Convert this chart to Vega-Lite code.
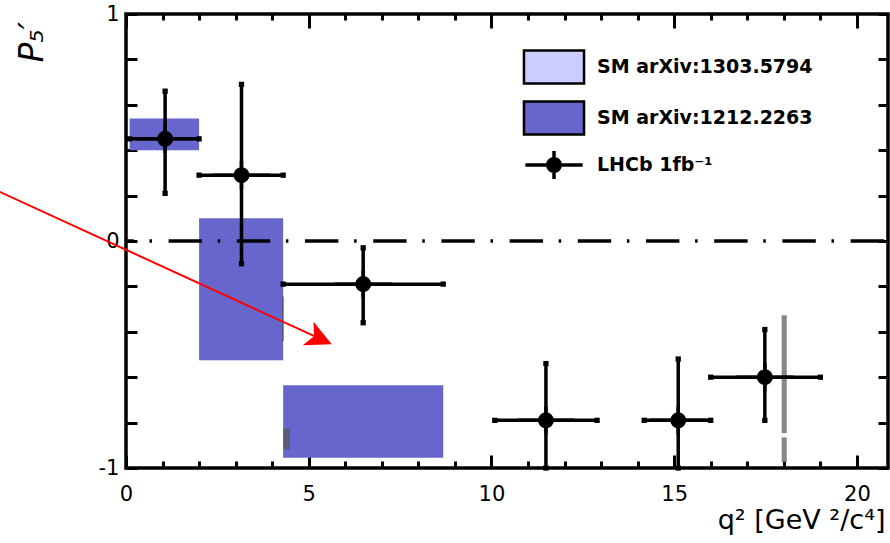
{
  "$schema": "https://vega.github.io/schema/vega-lite/v6.json",
  "width": 762,
  "height": 454,
  "autosize": {"type": "none"},
  "padding": {"left": 126, "top": 14, "right": 2, "bottom": 75},
  "background": "white",
  "config": {
    "view": {"stroke": "black", "strokeWidth": 3.5},
    "axis": {
      "domain": false,
      "grid": false,
      "labelFont": "DejaVu Sans",
      "labelFontSize": 21,
      "labelColor": "black",
      "labelFlush": false,
      "tickColor": "black",
      "tickWidth": 3,
      "titleFont": "DejaVu Sans",
      "titleFontWeight": "normal",
      "titleColor": "black"
    },
    "legend": {
      "orient": "none", "legendX": 410, "legendY": 35, "padding": 0,
      "symbolSize": 1089, "symbolStrokeColor": "black", "symbolStrokeWidth": 2.5, "symbolOpacity": 1,
      "labelFont": "DejaVu Sans", "labelFontWeight": "bold", "labelFontSize": 19, "labelLimit": 400,
      "labelColor": "black", "labelOffset": 25, "rowPadding": 7
    }
  },
  "datasets": {
    "theory": [
      {"series": "SM arXiv:1212.2263", "q_lo": 0.1, "q_hi": 2.0, "lo": 0.40, "hi": 0.54},
      {"series": "SM arXiv:1212.2263", "q_lo": 2.0, "q_hi": 4.3, "lo": -0.525, "hi": 0.10},
      {"series": "SM arXiv:1212.2263", "q_lo": 4.3, "q_hi": 8.68, "lo": -0.955, "hi": -0.635}
    ],
    "narrow": [
      {"series": "SM arXiv:1303.5794", "q_lo": 4.27, "q_hi": 4.32, "lo": -0.44, "hi": -0.245},
      {"series": "SM arXiv:1303.5794", "q_lo": 4.3, "q_hi": 4.48, "lo": -0.918, "hi": -0.826},
      {"series": "SM arXiv:1303.5794", "q_lo": 17.94, "q_hi": 18.08, "lo": -0.846, "hi": -0.327},
      {"series": "SM arXiv:1303.5794", "q_lo": 17.94, "q_hi": 18.08, "lo": -0.975, "hi": -0.865}
    ],
    "lhcb": [
      {"series": "LHCb 1fb⁻¹", "q": 1.07, "q_lo": 0.1, "q_hi": 2.0, "p": 0.45, "p_lo": 0.21, "p_hi": 0.66},
      {"series": "LHCb 1fb⁻¹", "q": 3.16, "q_lo": 2.0, "q_hi": 4.3, "p": 0.29, "p_lo": -0.10, "p_hi": 0.69},
      {"series": "LHCb 1fb⁻¹", "q": 6.49, "q_lo": 4.3, "q_hi": 8.68, "p": -0.19, "p_lo": -0.36, "p_hi": -0.03},
      {"series": "LHCb 1fb⁻¹", "q": 11.49, "q_lo": 10.09, "q_hi": 12.89, "p": -0.79, "p_lo": -1.0, "p_hi": -0.54},
      {"series": "LHCb 1fb⁻¹", "q": 15.11, "q_lo": 14.18, "q_hi": 16.0, "p": -0.79, "p_lo": -1.0, "p_hi": -0.52},
      {"series": "LHCb 1fb⁻¹", "q": 17.48, "q_lo": 16.0, "q_hi": 19.0, "p": -0.60, "p_lo": -0.79, "p_hi": -0.39}
    ],
    "zero": [{"p": 0}],
    "arrow": [
      {"q": -3.6, "p": 0.227},
      {"q": 5.26, "p": -0.427}
    ],
    "arrowhead": [{"q": 5.63, "p": -0.455}]
  },
  "resolve": {"axis": {"x": "independent", "y": "independent"}},
  "layer": [
    {
      "data": {"name": "theory"},
      "mark": {"type": "rect"},
      "encoding": {
        "x": {
          "field": "q_lo", "type": "quantitative",
          "scale": {"domain": [0, 20.85], "nice": false, "zero": false},
          "axis": {
            "orient": "bottom", "values": [0, 5, 10, 15, 20], "tickSize": -13, "labelPadding": 28,
            "title": "q² [GeV ²/c⁴]", "titleFontSize": 27, "titleAlign": "right",
            "titleBaseline": "alphabetic", "titleX": 759, "titleY": 60
          }
        },
        "x2": {"field": "q_hi"},
        "y": {
          "field": "lo", "type": "quantitative",
          "scale": {"domain": [-1, 1], "nice": false, "zero": false},
          "axis": {
            "orient": "left",
            "values": [-1, -0.8, -0.6, -0.4, -0.2, 0, 0.2, 0.4, 0.6, 0.8, 1],
            "tickSize": -11, "labelPadding": 18,
            "labelExpr": "datum.value == 1 ? '1' : datum.value == 0 ? '0' : datum.value == -1 ? '-1' : ''",
            "title": "P₅′", "titleFontSize": 33, "titleFontStyle": "italic", "titleAngle": -90,
            "titleAlign": "left", "titleBaseline": "alphabetic", "titleX": -84, "titleY": 48
          }
        },
        "y2": {"field": "hi"},
        "fill": {
          "field": "series", "type": "nominal", "title": null,
          "scale": {
            "domain": ["SM arXiv:1303.5794", "SM arXiv:1212.2263", "LHCb 1fb⁻¹"],
            "range": ["#ccccff", "#6666cc", "black"]
          }
        }
      }
    },
    {
      "data": {"name": "narrow"},
      "mark": {"type": "rect", "fill": "#555555", "opacity": 0.7},
      "encoding": {
        "x": {
          "field": "q_lo", "type": "quantitative",
          "axis": {
            "orient": "bottom", "values": [1, 2, 3, 4, 6, 7, 8, 9, 11, 12, 13, 14, 16, 17, 18, 19],
            "tickSize": -7, "labels": false, "title": null
          }
        },
        "x2": {"field": "q_hi"},
        "y": {
          "field": "lo", "type": "quantitative",
          "axis": {
            "orient": "right",
            "values": [-1, -0.8, -0.6, -0.4, -0.2, 0, 0.2, 0.4, 0.6, 0.8, 1],
            "tickSize": -10, "labels": false, "title": null
          }
        },
        "y2": {"field": "hi"}
      }
    },
    {
      "data": {"name": "zero"},
      "mark": {"type": "rule", "color": "black", "strokeWidth": 3.3, "strokeDash": [33.4, 16.6, 2.5, 15.7], "strokeDashOffset": -4},
      "encoding": {
        "y": {"field": "p", "type": "quantitative", "axis": null}
      }
    },
    {
      "data": {"name": "lhcb"},
      "mark": {"type": "rule", "color": "black", "strokeWidth": 3.5},
      "encoding": {
        "x": {
          "field": "q_lo", "type": "quantitative",
          "axis": {"orient": "top", "values": [0, 5, 10, 15, 20], "tickSize": -14, "labels": false, "title": null}
        },
        "x2": {"field": "q_hi"},
        "y": {"field": "p", "type": "quantitative", "axis": null}
      }
    },
    {
      "data": {"name": "lhcb"},
      "mark": {"type": "rule", "color": "black", "strokeWidth": 3.5},
      "encoding": {
        "x": {
          "field": "q", "type": "quantitative",
          "axis": {
            "orient": "top", "values": [1, 2, 3, 4, 6, 7, 8, 9, 11, 12, 13, 14, 16, 17, 18, 19],
            "tickSize": -6, "labels": false, "title": null
          }
        },
        "y": {"field": "p_lo", "type": "quantitative", "axis": null},
        "y2": {"field": "p_hi"}
      }
    },
    {
      "data": {"name": "lhcb"},
      "mark": {"type": "point", "shape": "square", "filled": true, "size": 28, "color": "black", "opacity": 1},
      "encoding": {
        "x": {"field": "q_lo", "type": "quantitative", "axis": null},
        "y": {"field": "p", "type": "quantitative", "axis": null}
      }
    },
    {
      "data": {"name": "lhcb"},
      "mark": {"type": "point", "shape": "square", "filled": true, "size": 28, "color": "black", "opacity": 1},
      "encoding": {
        "x": {"field": "q_hi", "type": "quantitative", "axis": null},
        "y": {"field": "p", "type": "quantitative", "axis": null}
      }
    },
    {
      "data": {"name": "lhcb"},
      "mark": {"type": "point", "shape": "square", "filled": true, "size": 28, "color": "black", "opacity": 1},
      "encoding": {
        "x": {"field": "q", "type": "quantitative", "axis": null},
        "y": {"field": "p_hi", "type": "quantitative", "axis": null}
      }
    },
    {
      "data": {"name": "lhcb"},
      "mark": {"type": "point", "shape": "square", "filled": true, "size": 28, "color": "black", "opacity": 1},
      "encoding": {
        "x": {"field": "q", "type": "quantitative", "axis": null},
        "y": {"field": "p_lo", "type": "quantitative", "axis": null}
      }
    },
    {
      "data": {"name": "lhcb"},
      "mark": {"type": "point", "filled": true, "size": 1089, "opacity": 1, "strokeWidth": 2.5},
      "encoding": {
        "x": {"field": "q", "type": "quantitative", "axis": null},
        "y": {"field": "p", "type": "quantitative", "axis": null},
        "fill": {"field": "series", "type": "nominal", "title": null},
        "stroke": {
          "field": "series", "type": "nominal", "title": null,
          "scale": {
            "domain": ["SM arXiv:1303.5794", "SM arXiv:1212.2263", "LHCb 1fb⁻¹"],
            "range": ["black", "black", "black"]
          }
        },
        "shape": {
          "field": "series", "type": "nominal", "title": null,
          "scale": {
            "domain": ["SM arXiv:1303.5794", "SM arXiv:1212.2263", "LHCb 1fb⁻¹"],
            "range": [
              "M-1.82,-1H1.82V1H-1.82Z",
              "M-1.82,-1H1.82V1H-1.82Z",
              "M-1.66,-0.03H1.66V0.03H-1.66Z M-0.03,-0.78H0.03V0.78H-0.03Z M0.41,0A0.41,0.41 0 1,1 -0.41,0A0.41,0.41 0 1,1 0.41,0Z"
            ]
          }
        }
      }
    },
    {
      "data": {"name": "arrow"},
      "mark": {"type": "line", "color": "#ff0000", "strokeWidth": 2},
      "encoding": {
        "x": {"field": "q", "type": "quantitative", "axis": null},
        "y": {"field": "p", "type": "quantitative", "axis": null}
      }
    },
    {
      "data": {"name": "arrowhead"},
      "mark": {"type": "point", "shape": "M0,0L-2,-1L-1.5,0L-2,1Z", "filled": true, "size": 676, "color": "#ff0000", "opacity": 1, "angle": 24.6},
      "encoding": {
        "x": {"field": "q", "type": "quantitative", "axis": null},
        "y": {"field": "p", "type": "quantitative", "axis": null}
      }
    }
  ]
}
